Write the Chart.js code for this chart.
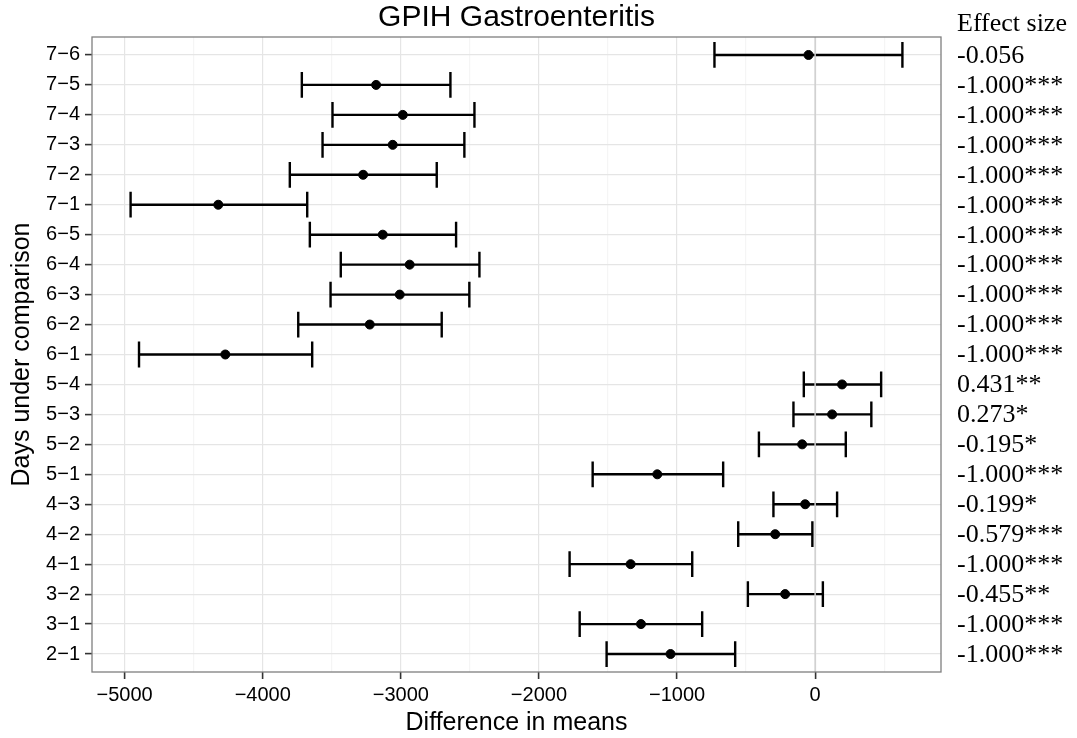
<!DOCTYPE html>
<html>
<head>
<meta charset="utf-8">
<script src="https://cdn.jsdelivr.net/npm/chart.js@4"></script>
<style>
  body { margin: 0; background: #fff; }
</style>
</head>
<body>
<canvas id="forest" width="1077" height="738"></canvas>
<script>
// comparisons, top to bottom
const rows = ['7\u22126', '7\u22125', '7\u22124', '7\u22123', '7\u22122', '7\u22121',
              '6\u22125', '6\u22124', '6\u22123', '6\u22122', '6\u22121',
              '5\u22124', '5\u22123', '5\u22122', '5\u22121',
              '4\u22123', '4\u22122', '4\u22121', '3\u22122', '3\u22121', '2\u22121'];
const diffs = [-48, -3179, -2986, -3059, -3273, -4322, -3131, -2936, -3008, -3225, -4271,
               195, 123, -94, -1143, -72, -289, -1336, -217, -1261, -1047];
const lower = [-729, -3717, -3495, -3567, -3804, -4957, -3659, -3435, -3509, -3743, -4896,
               -82, -157, -407, -1611, -302, -557, -1778, -487, -1705, -1510];
const upper = [632, -2641, -2467, -2540, -2740, -3678, -2600, -2431, -2504, -2704, -3642,
               478, 407, 222, -666, 159, -20, -890, 56, -818, -579];
const effectSizes = ['-0.056', '-1.000***', '-1.000***', '-1.000***', '-1.000***', '-1.000***',
                     '-1.000***', '-1.000***', '-1.000***', '-1.000***', '-1.000***',
                     '0.431**', '0.273*', '-0.195*', '-1.000***', '-0.199*', '-0.579***',
                     '-1.000***', '-0.455**', '-1.000***', '-1.000***'];
const xTicks = [-5000, -4500, -4000, -3500, -3000, -2500, -2000, -1500, -1000, -500, 0, 500];
const zeroLine = 0;

const sans = 'Liberation Sans, Arial, sans-serif';
const capHalf = 0.43;

// ggplot-like 5% expansion of the x range
const lo = Math.min(...lower), hi = Math.max(...upper);
const xMin = lo - (hi - lo) * 0.05, xMax = hi + (hi - lo) * 0.05;

// error bar segments (horizontal bar + two caps), gaps between them
const gap = { x: null, y: null };
const segs = [];
rows.forEach((r, i) => {
    segs.push({ x: lower[i], y: i }, { x: upper[i], y: i }, gap);
    segs.push({ x: lower[i], y: i - capHalf }, { x: lower[i], y: i + capHalf }, gap);
    segs.push({ x: upper[i], y: i - capHalf }, { x: upper[i], y: i + capHalf }, gap);
});

const fmt = v => (v < 0 ? '\u2212' + Math.abs(v) : String(v));

// panel border + effect size column
const extras = {
    id: 'extras',
    afterDraw(chart) {
        const { ctx, chartArea: a, scales } = chart;
        ctx.save();
        ctx.strokeStyle = '#7f7f7f';
        ctx.lineWidth = 1.3;
        ctx.strokeRect(a.left, a.top, a.right - a.left, a.bottom - a.top);

        ctx.fillStyle = '#000';
        ctx.font = '26px "Liberation Serif", "Times New Roman", serif';
        ctx.textAlign = 'left';
        ctx.textBaseline = 'alphabetic';
        ctx.fillText('Effect size', 957, 31);
        ctx.textBaseline = 'middle';
        effectSizes.forEach((t, i) => {
            ctx.fillText(t, 957, scales.y.getPixelForValue(i) + 1);
        });
        ctx.restore();
    }
};

new Chart(document.getElementById('forest'), {
    type: 'scatter',
    data: {
        datasets: [
            {
                // reference line at zero
                data: [{ x: zeroLine, y: -1 }, { x: zeroLine, y: rows.length }],
                showLine: true,
                borderColor: '#cfcfcf',
                borderWidth: 1.5,
                pointRadius: 0
            },
            {
                data: segs,
                showLine: true,
                spanGaps: false,
                borderColor: '#000',
                borderWidth: 2.4,
                borderCapStyle: 'butt',
                pointRadius: 0
            },
            {
                data: diffs.map((d, i) => ({ x: d, y: i })),
                backgroundColor: '#000',
                borderColor: '#000',
                pointRadius: 4.5
            }
        ]
    },
    options: {
        responsive: false,
        animation: false,
        layout: { padding: { top: 0, right: 136, bottom: 0, left: 0 } },
        scales: {
            x: {
                type: 'linear',
                min: xMin,
                max: xMax,
                afterBuildTicks: s => { s.ticks = xTicks.map(v => ({ value: v })); },
                afterFit: s => { s.height = 66; },
                border: { display: false },
                grid: {
                    color: c => (c.tick && c.tick.value % 1000 === 0 ? '#e5e5e5' : '#f5f5f5'),
                    tickColor: c => (c.tick && c.tick.value % 1000 === 0 ? '#333' : 'rgba(0,0,0,0)'),
                    tickLength: 7,
                    tickWidth: 1.6,
                    lineWidth: 1.2
                },
                ticks: {
                    autoSkip: false,
                    maxRotation: 0,
                    color: '#000',
                    padding: 4,
                    font: { family: sans, size: 20 },
                    callback: v => (v % 1000 === 0 ? fmt(v) : '')
                },
                title: {
                    display: true,
                    text: 'Difference in means',
                    color: '#000',
                    font: { family: sans, size: 25 },
                    padding: { top: 0, bottom: 0 }
                }
            },
            y: {
                type: 'linear',
                reverse: true,
                min: -0.6,
                max: rows.length - 0.4,
                afterBuildTicks: s => { s.ticks = rows.map((r, i) => ({ value: i })); },
                afterFit: s => { s.width = 92; },
                border: { display: false },
                grid: {
                    color: '#e5e5e5',
                    tickColor: '#333',
                    tickLength: 7,
                    tickWidth: 1.6,
                    lineWidth: 1.2
                },
                ticks: {
                    autoSkip: false,
                    color: '#000',
                    padding: 5,
                    font: { family: sans, size: 20 },
                    callback: v => rows[v]
                },
                title: {
                    display: true,
                    text: 'Days under comparison',
                    color: '#000',
                    font: { family: sans, size: 25 },
                    padding: { top: 7, bottom: 0 }
                }
            }
        },
        plugins: {
            legend: { display: false },
            tooltip: { enabled: false },
            title: {
                display: true,
                text: 'GPIH Gastroenteritis',
                fullSize: false,
                color: '#000',
                font: { family: sans, size: 30, weight: 'normal' },
                padding: { top: 0, bottom: 1 }
            }
        }
    },
    plugins: [extras]
});
</script>
</body>
</html>
